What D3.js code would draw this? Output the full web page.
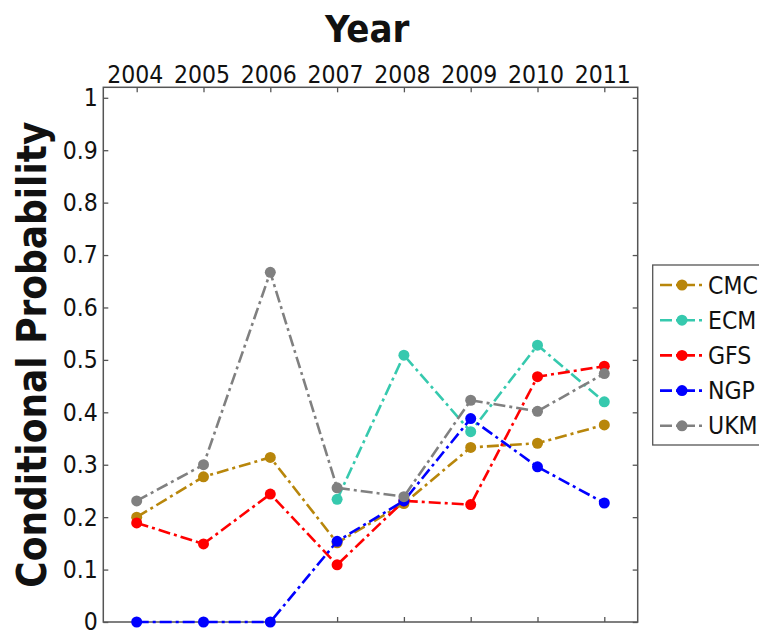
<!DOCTYPE html>
<html>
<head>
<meta charset="utf-8">
<script src="https://cdn.jsdelivr.net/npm/d3@7"></script>
<style>
  body { margin: 0; background: #fff; }
  text { font-family: "DejaVu Sans Condensed", "DejaVu Sans", sans-serif; font-stretch: condensed; fill: #111; }
</style>
</head>
<body>
<svg id="chart" width="759" height="633"></svg>
<script>
// values
const years = [2004, 2005, 2006, 2007, 2008, 2009, 2010, 2011];
const seriesNames = ['CMC', 'ECM', 'GFS', 'NGP', 'UKM'];
const cmc = [0.200, 0.277, 0.314, 0.151, 0.226, 0.333, 0.341, 0.376];
const ecm = [null, null, null, 0.234, 0.509, 0.363, 0.528, 0.420];
const gfs = [0.189, 0.149, 0.244, 0.109, 0.231, 0.224, 0.468, 0.488];
const ngp = [0, 0, 0, 0.154, 0.231, 0.388, 0.296, 0.227];
const ukm = [0.231, 0.300, 0.667, 0.256, 0.239, 0.423, 0.402, 0.474];
const yTicks = [0, 0.1, 0.2, 0.3, 0.4, 0.5, 0.6, 0.7, 0.8, 0.9, 1];
const colors = ['#b8860b', '#36c9ae', '#ff0000', '#0000ff', '#808080'];

const series = [cmc, ecm, gfs, ngp, ukm].map((vals, i) => ({
  name: seriesNames[i],
  color: colors[i],
  pts: years.map((yr, j) => ({year: yr, v: vals[j]})).filter(d => d.v !== null)
}));

const svg = d3.select('#chart');
const box = {left: 103.3, right: 637.7, top: 87.3, bottom: 622};

const x = d3.scaleLinear().domain([2003.5, 2011.5]).range([box.left, box.right]);
const y = d3.scaleLinear().domain([0, 1.02]).range([box.bottom, box.top]);

const tick = 5;
const axisColor = '#555';
const font = '"DejaVu Sans Condensed", "DejaVu Sans", sans-serif';

// left axis with labels
const gl = svg.append('g').attr('transform', `translate(${box.left},0)`)
  .call(d3.axisLeft(y).tickValues(yTicks).tickFormat(d3.format('')).tickSizeInner(-tick).tickSizeOuter(0).tickPadding(5.5));
// right axis ticks only
const gr = svg.append('g').attr('transform', `translate(${box.right},0)`)
  .call(d3.axisRight(y).tickValues(yTicks).tickFormat('').tickSizeInner(-tick).tickSizeOuter(0));
// top axis with year labels
const gt = svg.append('g').attr('transform', `translate(0,${box.top})`)
  .call(d3.axisTop(x).tickValues(years).tickFormat(d3.format('d')).tickSizeInner(-tick).tickSizeOuter(0).tickPadding(4));
// bottom ticks only
const gb = svg.append('g').attr('transform', `translate(0,${box.bottom})`)
  .call(d3.axisBottom(x).tickValues(years).tickFormat('').tickSizeInner(-tick).tickSizeOuter(0));

[gl, gr, gt, gb].forEach(g => {
  g.select('.domain').remove();
  g.selectAll('line').attr('stroke', axisColor).attr('stroke-width', 1.3);
  g.selectAll('text').attr('font-size', 24.5).attr('fill', '#111').attr('font-family', font);
});
gt.selectAll('text').attr('dx', -2);

svg.append('rect')
  .attr('x', box.left).attr('y', box.top)
  .attr('width', box.right - box.left).attr('height', box.bottom - box.top)
  .attr('fill', 'none').attr('stroke', axisColor).attr('stroke-width', 1.5);

const line = d3.line().x(d => x(d.year)).y(d => y(d.v));
const dash = '12,4,3,4';

const sg = svg.append('g').selectAll('g').data(series).join('g');
sg.append('path')
  .attr('d', d => line(d.pts))
  .attr('fill', 'none')
  .attr('stroke', d => d.color)
  .attr('stroke-width', 2.6)
  .attr('stroke-dasharray', dash);
sg.selectAll('circle').data(d => d.pts.map(p => ({...p, color: d.color}))).join('circle')
  .attr('cx', d => x(d.year)).attr('cy', d => y(d.v)).attr('r', 5.5)
  .attr('fill', d => d.color);

// titles
svg.append('text')
  .attr('x', 367.3).attr('y', 41.7)
  .attr('text-anchor', 'middle')
  .attr('font-size', 38).attr('font-weight', 'bold')
  .text('Year');

svg.append('text')
  .attr('transform', `translate(45.5,${(box.top + box.bottom) / 2}) rotate(-90)`)
  .attr('text-anchor', 'middle')
  .attr('font-size', 40).attr('font-weight', 'bold')
  .text('Conditional Probability');

// legend
const lg = svg.append('g');
lg.append('rect')
  .attr('x', 652.7).attr('y', 265).attr('width', 140).attr('height', 180)
  .attr('fill', '#fff').attr('stroke', axisColor).attr('stroke-width', 1.3);
const items = lg.selectAll('g.item').data(series).join('g')
  .attr('class', 'item')
  .attr('transform', (d, i) => `translate(0,${285 + i * 35.2})`);
items.append('line')
  .attr('x1', 660).attr('x2', 705).attr('y1', 0).attr('y2', 0)
  .attr('stroke', d => d.color).attr('stroke-width', 2.6).attr('stroke-dasharray', dash);
items.append('circle')
  .attr('cx', 682).attr('cy', 0).attr('r', 5.5).attr('fill', d => d.color);
items.append('text')
  .attr('x', 708).attr('y', 8.6)
  .attr('font-size', 24.5)
  .text(d => d.name);
</script>
</body>
</html>
